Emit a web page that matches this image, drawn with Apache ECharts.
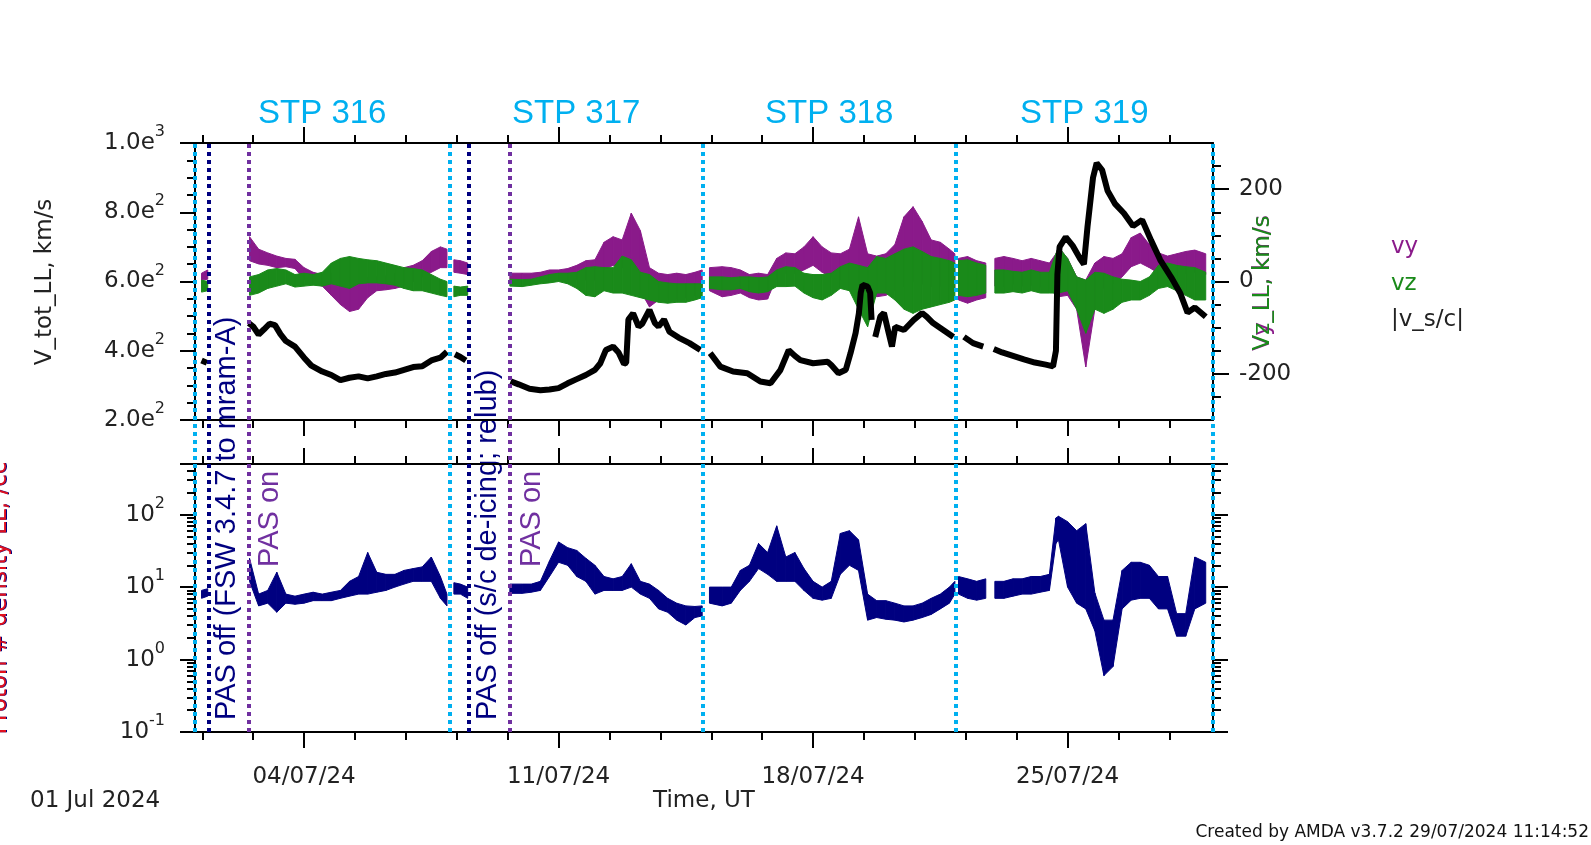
<!DOCTYPE html>
<html><head><meta charset="utf-8">
<script src="https://cdn.jsdelivr.net/npm/echarts@6/dist/echarts.min.js"></script>
<style>html,body{margin:0;padding:0;background:#fff}#c{width:1591px;height:845px}</style>
</head><body><div id="c"></div>
<script>
// ---------------- data (time in days since 01 Jul 2024 00:00 UT) ----------------
const vtot = [
[0.18,372],[0.33,365],[0.9,null],
[1.48,480],[1.6,470],[1.75,447],[1.9,462],[2.05,478],[2.2,474],[2.35,448],[2.5,428],[2.75,412],[3.0,380],[3.2,357],[3.5,340],[3.75,330],[4.0,315],[4.25,322],[4.5,326],[4.75,320],[5.0,326],[5.25,333],[5.5,337],[5.75,345],[6.0,353],[6.25,355],[6.5,372],[6.75,380],[6.93,397],[7.02,null],
[7.15,390],[7.3,382],[7.45,372],[8.1,null],
[8.68,312],[8.9,303],[9.2,290],[9.5,286],[9.75,288],[10.0,292],[10.25,306],[10.5,318],[10.75,330],[11.0,345],[11.15,364],[11.3,402],[11.5,412],[11.65,395],[11.8,362],[11.86,365],[11.92,490],[12.05,508],[12.2,470],[12.3,478],[12.5,518],[12.65,480],[12.75,470],[12.9,490],[13.05,455],[13.3,438],[13.6,422],[13.9,402],[14.02,null],
[14.17,393],[14.45,354],[14.8,340],[15.19,335],[15.55,311],[15.83,306],[16.1,344],[16.33,402],[16.5,385],[16.65,373],[17.0,364],[17.4,368],[17.5,359],[17.7,335],[17.9,345],[18.03,393],[18.17,451],[18.26,508],[18.31,567],[18.36,590],[18.5,585],[18.57,567],[18.61,489],[18.66,null],
[18.71,440],[18.85,499],[18.95,509],[19.08,451],[19.17,412],[19.26,469],[19.5,460],[19.77,489],[20.0,509],[20.13,498],[20.3,480],[20.58,460],[20.86,440],[21.0,null],
[21.15,440],[21.4,422],[21.68,412],[21.85,null],
[21.97,405],[22.2,395],[22.5,385],[22.8,375],[23.1,366],[23.4,360],[23.6,355],[23.68,400],[23.72,620],[23.78,700],[23.95,728],[24.15,702],[24.35,665],[24.45,650],[24.55,760],[24.7,900],[24.8,942],[24.95,922],[25.1,862],[25.3,825],[25.55,797],[25.8,760],[26.05,778],[26.3,718],[26.55,662],[26.85,612],[27.1,566],[27.3,510],[27.5,525],[27.8,498]
];
// [time, low, high] envelopes of the noisy components
const vyBand = [
[0.18,3,18],[0.35,5,25],[0.9,null,null],
[1.5,45,97],[1.75,38,70],[2.0,35,62],[2.25,30,55],[2.5,32,50],[2.75,28,48],[3.0,5,30],[3.25,-5,20],[3.5,-10,15],[3.75,-30,18],[4.0,-50,10],[4.25,-65,5],[4.5,-60,10],[4.75,-35,8],[5.0,-20,10],[5.25,-18,12],[5.5,-15,18],[5.75,-10,30],[6.0,0,35],[6.25,10,45],[6.5,20,65],[6.75,30,75],[6.93,30,70],[7.02,null,null],
[7.12,20,47],[7.3,18,45],[7.5,15,40],[8.1,null,null],
[8.66,5,18],[9.0,5,18],[9.25,3,18],[9.5,3,20],[9.75,5,25],[10.0,5,25],[10.25,5,28],[10.5,5,35],[10.75,3,45],[11.0,3,47],[11.25,25,85],[11.5,35,97],[11.75,30,90],[12.0,40,148],[12.25,-20,110],[12.5,-55,30],[12.75,-40,18],[13.0,-35,15],[13.25,-38,18],[13.5,-35,15],[13.75,-30,20],[13.95,-25,25],[14.05,null,null],
[14.15,-20,30],[14.5,-33,32],[14.75,-30,30],[15.0,-25,25],[15.25,-35,15],[15.5,-40,18],[15.75,-38,15],[16.0,10,50],[16.25,18,62],[16.5,18,60],[16.75,25,75],[17.0,35,97],[17.25,20,75],[17.5,10,62],[17.75,3,60],[18.0,10,70],[18.25,30,140],[18.5,-20,60],[18.75,-33,55],[19.0,-30,60],[19.25,-20,80],[19.5,-10,140],[19.75,0,162],[20.0,-5,130],[20.25,-11,90],[20.5,-10,85],[20.75,-10,70],[20.9,-15,60],[20.95,null,null],
[21.0,-40,50],[21.25,-47,54],[21.5,-40,45],[21.75,-35,40],[21.85,null,null],
[22.0,-10,50],[22.25,-11,54],[22.5,-5,50],[22.75,-10,45],[23.0,-8,50],[23.25,-11,45],[23.5,-15,40],[23.68,-30,60],[23.75,-33,75],[24.0,-30,50],[24.25,-60,10],[24.5,-185,3],[24.75,-60,40],[25.0,-11,54],[25.25,-5,50],[25.5,10,60],[25.75,32,95],[26.0,40,105],[26.25,30,80],[26.5,18,62],[26.75,18,55],[27.0,20,60],[27.25,18,65],[27.5,20,68],[27.8,15,60]
];
const vzBand = [
[0.18,-23,3],[0.35,-20,0],[0.9,null,null],
[1.5,-30,10],[1.75,-25,15],[2.0,-15,25],[2.25,-10,28],[2.5,-5,25],[2.75,-12,15],[3.0,-10,18],[3.25,-8,15],[3.5,-10,20],[3.75,-5,40],[4.0,-10,50],[4.25,-15,54],[4.5,-5,50],[4.75,-3,47],[5.0,-3,45],[5.25,-5,40],[5.5,-8,35],[5.75,-15,30],[6.0,-20,28],[6.25,-20,25],[6.5,-25,15],[6.75,-30,5],[6.93,-33,0],[7.02,null,null],
[7.12,-33,-10],[7.3,-30,-12],[7.5,-30,-10],[8.1,null,null],
[8.66,-10,5],[9.0,-11,4],[9.25,-8,5],[9.5,-5,10],[9.75,-3,15],[10.0,0,18],[10.25,-5,18],[10.5,-15,20],[10.75,-30,30],[11.0,-33,32],[11.25,-20,30],[11.5,-25,30],[11.75,-25,55],[12.0,-30,47],[12.25,-35,20],[12.5,-40,15],[12.75,-45,0],[13.0,-47,-3],[13.25,-45,-5],[13.5,-45,-5],[13.75,-40,-5],[13.95,-35,-5],[14.05,null,null],
[14.15,-15,10],[14.5,-18,10],[14.75,-18,8],[15.0,-15,10],[15.25,-22,10],[15.5,-25,8],[15.75,-22,10],[16.0,-11,25],[16.25,-11,32],[16.5,-10,30],[16.75,-25,18],[17.0,-35,15],[17.25,-40,15],[17.5,-30,18],[17.75,-15,32],[18.0,-20,40],[18.25,-60,35],[18.5,-98,30],[18.75,-25,54],[19.0,-25,50],[19.25,-40,60],[19.5,-60,70],[19.75,-69,75],[20.0,-60,65],[20.25,-55,54],[20.5,-50,50],[20.75,-45,45],[20.9,-40,40],[20.95,null,null],
[21.0,-30,45],[21.25,-33,47],[21.5,-30,40],[21.75,-25,35],[21.85,null,null],
[22.0,-25,25],[22.25,-25,25],[22.5,-22,22],[22.75,-25,20],[23.0,-20,25],[23.25,-25,20],[23.5,-25,20],[23.68,-25,60],[23.75,-25,75],[24.0,-20,50],[24.25,-60,10],[24.5,-112,3],[24.75,-60,20],[25.0,-69,18],[25.25,-60,10],[25.5,-45,5],[25.75,-40,3],[26.0,-40,0],[26.25,-30,10],[26.5,-15,35],[26.75,-11,40],[27.0,-20,35],[27.25,-30,32],[27.5,-40,30],[27.8,-40,20]
];
const densBand = [
[0.18,7,9],[0.35,7.5,9.5],[0.9,null,null],
[1.5,12,25],[1.75,5.5,8],[2.0,6,9],[2.25,4.5,16],[2.5,6,8],[2.75,5.8,7.5],[3.0,6,8],[3.25,6.5,8.5],[3.5,6.5,8],[3.75,6.5,8.5],[4.0,7,9],[4.25,7.5,12],[4.5,8,14],[4.75,8,30],[5.0,8.5,16],[5.25,9,15],[5.5,10,15],[5.75,11,17],[6.0,12,18],[6.25,12,19],[6.5,12,26],[6.75,7,14],[6.93,5.5,8],[7.02,null,null],
[7.12,8,11.5],[7.3,8,11],[7.5,7,10],[8.1,null,null],
[8.66,8.2,11],[9.0,8.2,11],[9.25,8.5,11],[9.5,9,12],[9.75,14,23],[10.0,22,42],[10.25,20,35],[10.5,14,32],[10.75,12,25],[11.0,8,20],[11.25,9,14],[11.5,9,13],[11.75,9,14],[12.0,10,21],[12.25,8,12],[12.5,7,11],[12.75,5,9],[13.0,4.5,7],[13.25,3.5,6],[13.5,3,5.5],[13.75,3.8,5.4],[13.95,4,5.5],[14.05,null,null],
[14.15,6,10],[14.5,5.5,10],[14.75,6,10],[15.0,9,17],[15.25,12,20],[15.5,18,40],[15.75,15,30],[16.0,12,70],[16.25,12,26],[16.5,12,30],[16.75,9,18],[17.0,7,12],[17.25,6.6,10],[17.5,7,12],[17.75,15,55],[18.0,20,60],[18.25,17,45],[18.5,3.5,8],[18.75,3.8,6.5],[19.0,3.6,6.5],[19.25,3.5,6],[19.5,3.3,5.5],[19.75,3.5,5.5],[20.0,3.8,6],[20.25,4.2,7],[20.5,5,8],[20.75,6,10],[20.9,8,12],[20.95,null,null],
[21.0,8,14],[21.25,7,13],[21.5,6.6,12],[21.75,7,13],[21.85,null,null],
[22.0,7,12],[22.25,7,12],[22.5,7.5,13],[22.75,8,13],[23.0,8,14],[23.25,8.5,14],[23.5,9,15],[23.68,40,90],[23.75,45,95],[24.0,10,80],[24.25,6,60],[24.5,5,75],[24.75,2.5,8.3],[25.0,0.6,3.5],[25.25,0.8,3.5],[25.5,5,17],[25.75,6.6,22],[26.0,7,22],[26.25,7,20],[26.5,5,14],[26.75,5,14],[27.0,2.1,4.3],[27.25,2.1,4.3],[27.5,5,26],[27.8,6,22]
];
// axes / ticks
const majorDays = [3, 10, 17, 24];
const xTickLabels = ['04/07/24', '11/07/24', '18/07/24', '25/07/24'];
const minorDays = [0.2,1.6,3.0,4.4,5.8,7.2,8.6,10.0,11.4,12.8,14.2,15.6,17.0,18.4,19.8,21.2,22.6,24.0,25.4,26.8];
const vRightMajor = [-200, 0, 200];
const vRightMinor = [-250, -150, -100, -50, 50, 100, 150, 250];
const densDecades = [-1, 0, 1, 2];
const densMax = 500;
// events
const stpBounds = [0, 7.0, 13.97, 20.92, 28.0];
const stpNames = ['STP 316', 'STP 317', 'STP 318', 'STP 319'];
const pasOffDays = [0.37, 7.53];
const pasOffText = ['PAS off (FSW 3.4.7 to mram-A)', 'PAS off (s/c de-icing; relub)'];
const pasOnDays = [1.47, 8.67];
const pasOnText = ['PAS on', 'PAS on'];

// ---------------- rendering ----------------
const FONT = 'DejaVu Sans', AFONT = 'Liberation Sans';
const TXT = '#222', CYAN = '#00B0F0', NAVY = '#000080', EVPURPLE = '#7030A0';
const VY = '#8a1a8a', VZ = '#1a8a1a';
const L = 195, R = 1213, W = R - L;
const logMinor = [];
for (let k = -1; k <= 2; k++) for (let m = 2; m <= 9; m++) { const v = m * Math.pow(10, k); if (v < densMax) logMinor.push(Math.log10(v)); }
const densTop = Math.log10(densMax);

const chart = echarts.init(document.getElementById('c'), null, {renderer: 'canvas'});
const tickStyle = {color: '#000', width: 2};
function xa(grid, pos, ticks, len, line) {
  return {type: 'value', gridIndex: grid, min: 0, max: 28, position: pos,
    axisLine: {show: line, onZero: false, lineStyle: {color: '#000', width: 2}},
    axisTick: {show: true, customValues: ticks, length: len, lineStyle: tickStyle},
    axisLabel: {show: false}, splitLine: {show: false}};
}
function ya(grid, pos, min, max, line, ticks, len, labels, extra) {
  const a = {type: 'value', gridIndex: grid, position: pos, min: min, max: max,
    axisLine: {show: line, onZero: false, lineStyle: {color: '#000', width: 2}},
    axisTick: {show: true, customValues: ticks, length: len, lineStyle: tickStyle},
    axisLabel: {show: false}, splitLine: {show: false}};
  return Object.assign(a, extra || {});
}
const rich = {
  m: {fontSize: 23, fontFamily: FONT, color: TXT, lineHeight: 38, verticalAlign: 'middle'},
  s: {fontSize: 16, fontFamily: FONT, color: TXT, lineHeight: 16, verticalAlign: 'top'}
};
function band(rows, xi, yi, color, f) {
  const segs = [];
  for (let i = 0; i < rows.length - 1; i++) {
    const a = rows[i], b = rows[i + 1];
    if (a[1] == null || b[1] == null) continue;
    segs.push([a[0], f(a[1]), f(a[2]), b[0], f(b[1]), f(b[2])]);
  }
  return {type: 'custom', xAxisIndex: xi, yAxisIndex: yi, data: segs, silent: true, clip: true,
    encode: {x: [0, 3], y: [1, 2, 4, 5]},
    renderItem: function (params, api) {
      const p0 = api.coord([api.value(0), api.value(2)]);
      const p1 = api.coord([api.value(3), api.value(5)]);
      const p2 = api.coord([api.value(3), api.value(4)]);
      const p3 = api.coord([api.value(0), api.value(1)]);
      return {type: 'polygon', shape: {points: [p0, p1, p2, p3]}, style: {fill: color, stroke: color, lineWidth: 1}};
    }};
}
const ident = v => v;
const evLines = [];
const evStyle = c => ({color: c, width: 4, type: [4, 4]});
stpBounds.forEach(d => evLines.push({xAxis: d, lineStyle: evStyle(CYAN)}));
pasOffDays.forEach(d => evLines.push({xAxis: d, lineStyle: evStyle(NAVY)}));
pasOnDays.forEach(d => evLines.push({xAxis: d, lineStyle: evStyle(EVPURPLE)}));

const option = {
  animation: false,
  backgroundColor: '#fff',
  grid: [
    {left: L, width: W, top: 143, height: 277, outerBoundsMode: 'none'},
    {left: L, width: W, top: 464, height: 268, outerBoundsMode: 'none'},
    {left: L, width: W, top: 143, height: 589, outerBoundsMode: 'none'}
  ],
  xAxis: [
    xa(0, 'bottom', minorDays, 8, true),
    xa(0, 'top', minorDays, 8, true),
    xa(0, 'bottom', majorDays, 16, false),
    xa(0, 'top', majorDays, 16, false),
    xa(1, 'bottom', minorDays, 8, true),
    xa(1, 'top', minorDays, 8, true),
    Object.assign(xa(1, 'bottom', majorDays, 16, false), {
      axisLabel: {show: true, customValues: majorDays, margin: 34, color: TXT, fontSize: 23, fontFamily: FONT,
        formatter: v => { const i = majorDays.indexOf(v); return i >= 0 ? xTickLabels[i] : ''; }}}),
    xa(1, 'top', majorDays, 16, false),
    {type: 'value', gridIndex: 2, min: 0, max: 28, show: false}
  ],
  yAxis: [
    {type: 'value', gridIndex: 0, position: 'left', min: 200, max: 1000, interval: 200,
      axisLine: {show: true, onZero: false, lineStyle: {color: '#000', width: 2}},
      axisTick: {show: true, length: 15, lineStyle: tickStyle},
      minorTick: {show: true, splitNumber: 4, length: 8, lineStyle: tickStyle},
      splitLine: {show: false}, minorSplitLine: {show: false},
      axisLabel: {show: true, margin: 30, rich: rich,
        formatter: v => { const e = Math.floor(Math.log10(v) + 1e-9); const m = v / Math.pow(10, e); return '{m|' + m.toFixed(1) + 'e}{s|' + e + '}'; }}},
    ya(0, 'right', -300, 300, true, vRightMajor, 16, true, {
      axisLabel: {show: true, customValues: vRightMajor, margin: 26, color: TXT, fontSize: 23, fontFamily: FONT, align: 'left'}}),
    ya(0, 'right', -300, 300, false, vRightMinor, 8),
    ya(1, 'left', -1, densTop, true, densDecades.concat([densTop]), 15, true, {
      axisLabel: {show: true, customValues: densDecades, margin: 30, rich: rich,
        formatter: v => '{m|10}{s|' + Math.round(v) + '}'}}),
    ya(1, 'left', -1, densTop, false, logMinor, 8),
    ya(1, 'right', -1, densTop, true, densDecades.concat([densTop]), 15),
    ya(1, 'right', -1, densTop, false, logMinor, 8),
    {type: 'value', gridIndex: 2, min: 0, max: 1, show: false}
  ],
  series: [
    band(vyBand, 0, 1, VY, ident),
    band(vzBand, 0, 1, VZ, ident),
    {type: 'line', xAxisIndex: 0, yAxisIndex: 0, showSymbol: false, symbol: 'none', connectNulls: false,
      data: vtot.map(p => [p[0], p[1] == null ? '-' : p[1]]),
      lineStyle: {color: '#000', width: 6}, itemStyle: {color: '#000'}, z: 3, silent: true},
    band(densBand, 4, 3, NAVY, Math.log10),
    {type: 'line', xAxisIndex: 8, yAxisIndex: 7, data: [], showSymbol: false, z: 10, clip: false,
      markLine: {symbol: ['none', 'none'], silent: true, animation: false, label: {show: false}, data: evLines}}
  ]
};
chart.setOption(option);

const px = d => chart.convertToPixel({xAxisIndex: 8}, d);
const g = [];
function txt(x, y, s, o) {
  g.push(Object.assign({type: 'text', x: x, y: y, silent: true,
    style: Object.assign({text: s, fill: TXT, font: '23px "' + FONT + '"', align: 'center', verticalAlign: 'middle'}, o && o.style || {})},
    o && o.rot ? {rotation: o.rot} : {}));
}
for (let i = 0; i < stpNames.length; i++) {
  txt(px((stpBounds[i] + stpBounds[i + 1]) / 2), 114, stpNames[i], {style: {fill: CYAN, font: '33px "' + AFONT + '"'}});
}
for (let i = 0; i < pasOffDays.length; i++) {
  txt(px(pasOffDays[i]) + 19, 720, pasOffText[i], {rot: Math.PI / 2, style: {fill: NAVY, font: '29px "' + AFONT + '"', align: 'left'}});
  txt(px(pasOnDays[i]) + 22, 567, pasOnText[i], {rot: Math.PI / 2, style: {fill: EVPURPLE, font: '29px "' + AFONT + '"', align: 'left'}});
}
txt(45, 282, 'V_tot_LL, km/s', {rot: Math.PI / 2});
txt(1263, 283, 'Vy_LL, km/s', {rot: Math.PI / 2, style: {fill: VY}});
txt(1263, 283, 'Vz_LL, km/s', {rot: Math.PI / 2, style: {fill: VZ}});
txt(1, 598, 'Proton # density LL, /cc', {rot: Math.PI / 2, style: {fill: NAVY}});
txt(0, 598, 'Proton # density LL, /cc', {rot: Math.PI / 2, style: {fill: '#e0101e'}});
txt(1391, 247, 'vy', {style: {fill: VY, align: 'left'}});
txt(1391, 284, 'vz', {style: {fill: VZ, align: 'left'}});
txt(1391, 320, '|v_s/c|', {style: {align: 'left'}});
txt(30, 801, '01 Jul 2024', {style: {align: 'left'}});
txt((L + R) / 2, 801, 'Time, UT');
txt(1589, 833, 'Created by AMDA v3.7.2 29/07/2024 11:14:52', {style: {align: 'right', font: '17px "' + FONT + '"', fill: '#111'}});
chart.setOption({graphic: {elements: g}});
</script>
</body></html>
